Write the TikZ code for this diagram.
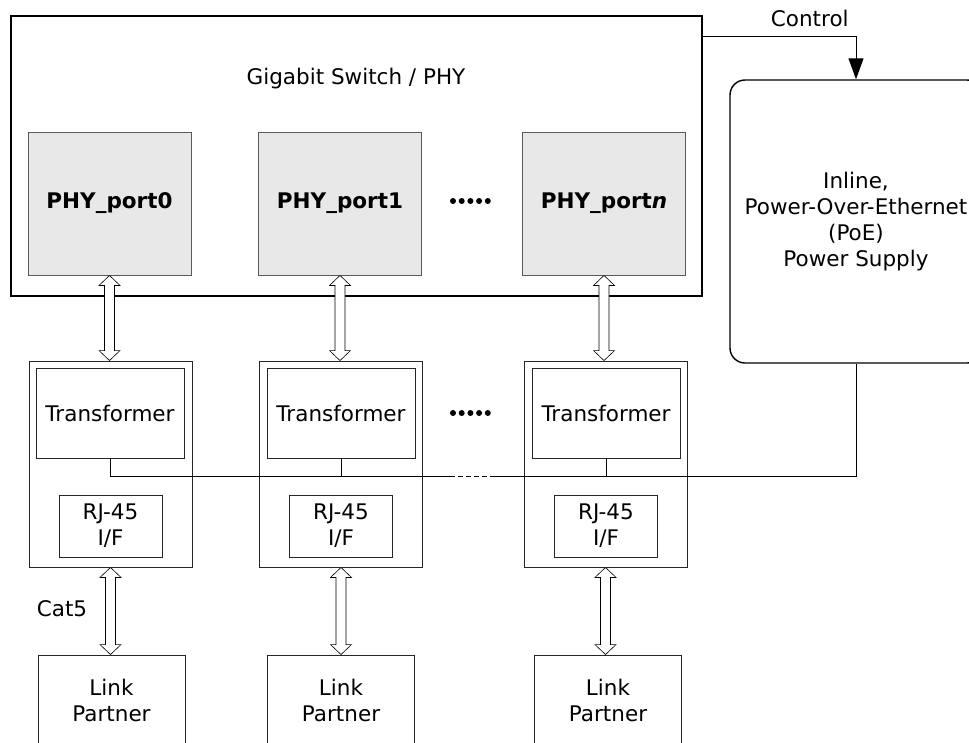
\documentclass[tikz,border=0pt]{standalone}
\usepackage{fontspec}
\setmainfont{DejaVu Sans}
\usetikzlibrary{arrows.meta,calc}

\tikzset{
  txt/.style={font=\fontsize{21.5}{26}\selectfont, align=center, inner sep=0pt},
  bigbox/.style={draw=black, line width=1.4pt},
  portbox/.style={draw=black!65, line width=0.9pt, fill=black!9, inner sep=0pt,
    minimum width=163pt, minimum height=143pt, font=\fontsize{21.5}{26}\selectfont\bfseries},
  unitbox/.style={draw=black!85, line width=0.9pt, inner sep=0pt,
    minimum width=163pt, minimum height=206pt},
  trbox/.style={txt, draw=black!85, line width=0.9pt, minimum width=148pt, minimum height=90pt},
  rjbox/.style={txt, draw=black!85, line width=0.9pt, minimum width=103pt, minimum height=62pt},
  lpbox/.style={txt, draw=black!85, line width=0.9pt, minimum width=147pt, minimum height=90pt},
}

% hollow two-headed arrow from #1 (top) to #2 (bottom)
\newcommand{\dblarrow}[2]{%
  \draw[fill=white, line width=0.6pt] let \p1=(#1), \p2=(#2) in
    (\x1,\y1) -- (\x1-10.5pt,\y1-10pt) -- (\x1-5pt,\y1-10pt)
    -- (\x1-5pt,\y2+10pt) -- (\x1-10.5pt,\y2+10pt) -- (\x1,\y2)
    -- (\x1+10.5pt,\y2+10pt) -- (\x1+5pt,\y2+10pt)
    -- (\x1+5pt,\y1-10pt) -- (\x1+10.5pt,\y1-10pt) -- cycle;}

\begin{document}
\begin{tikzpicture}[x=1pt, y=-1pt]
\useasboundingbox (0,0) rectangle (969,742);

% switch
\node[bigbox, minimum width=691pt, minimum height=280pt, inner sep=0pt] (sw) at (356.5,156) {};
\node[txt] (swtitle) at (356,79) {Gigabit Switch / PHY};
\node[portbox] (p0) at (109.5,203.5) {PHY\_port0};
\node[portbox] (p1) at (340,203.5) {PHY\_port1};
\node[portbox] (pn) at (604,203.5) {PHY\_port\textit{n}};
\foreach \i in {0,...,4}
  \fill (453+\i*8.7,201) circle[radius=3pt];

% power supply
\node[txt, bigbox, rounded corners=15pt, minimum width=252pt, minimum height=283pt] (poe) at (856,221.5)
  {Inline,\\Power-Over-Ethernet\\(PoE)\\Power Supply};
\coordinate (ctl) at (702,36);
\draw[line width=0.9pt, -{Triangle[length=21pt,width=15pt]}] (ctl) -| (poe.north)
  node[txt, pos=0.35, above=9pt] (ctltext) {Control};

% transformer units
\node[unitbox] (ob0) at (110.5,464) {};
\node[unitbox] (ob1) at (341,464) {};
\node[unitbox] (obn) at (605.5,464) {};
\node[trbox] (tr0) at (110,413) {Transformer};
\node[trbox] (tr1) at (341,413) {Transformer};
\node[trbox] (trn) at (606,413) {Transformer};
\node[rjbox] (rj0) at (110.5,526) {RJ-45\\I/F};
\node[rjbox] (rj1) at (341,526) {RJ-45\\I/F};
\node[rjbox] (rjn) at (606,526) {RJ-45\\I/F};
\foreach \i in {0,...,4}
  \fill (453+\i*8.7,413) circle[radius=3pt];

% link partners
\node[lpbox] (lp0) at (111.5,700) {Link\\Partner};
\node[lpbox] (lp1) at (341,700) {Link\\Partner};
\node[lpbox] (lpn) at (608,700) {Link\\Partner};
\node[txt] (cat) at (62,609) {Cat5};

% power bus
\coordinate (dashA) at (450,476);
\coordinate (dashB) at (495,476);
\draw[line width=0.9pt] (tr0.south) |- (dashA);
\draw[line width=1pt, dash pattern=on 5pt off 3pt] (dashA) -- (dashB);
\draw[line width=0.9pt] (dashB) -| (poe.south);
\draw[line width=0.9pt] (tr1.south) -- (tr1.south |- dashA);
\draw[line width=0.9pt] (trn.south) -- (trn.south |- dashA);

% data paths
\dblarrow{p0.south}{ob0.north}
\dblarrow{p1.south}{ob1.north}
\dblarrow{pn.south}{obn.north}
\dblarrow{ob0.south}{lp0.north}
\dblarrow{ob1.south}{lp1.north}
\dblarrow{obn.south}{lpn.north}

\end{tikzpicture}
\end{document}
